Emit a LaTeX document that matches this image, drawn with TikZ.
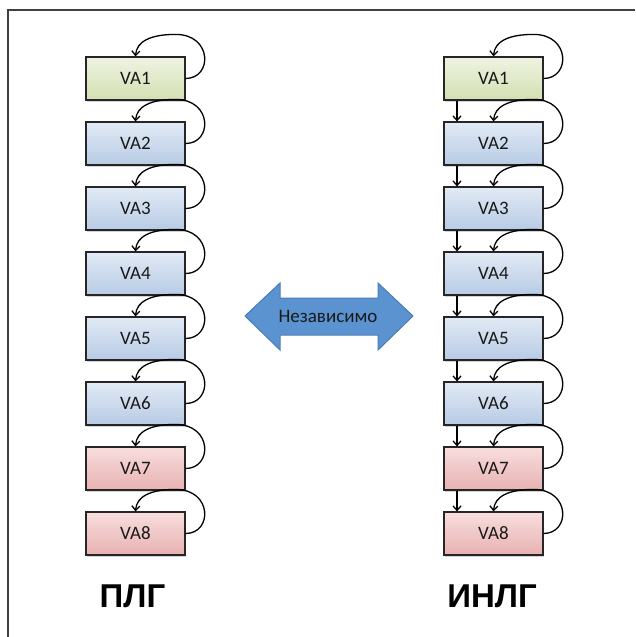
\documentclass[tikz,border=0pt]{standalone}
\usepackage{fontspec}
\setmainfont{Carlito}
\newfontfamily\labelfont{Liberation Sans}
\usetikzlibrary{arrows.meta,calc,shadows}
\definecolor{gtop}{HTML}{EEF3E1}
\definecolor{gbot}{HTML}{D3E0B2}
\definecolor{btop}{HTML}{E2EAF5}
\definecolor{bbot}{HTML}{B7CBE5}
\definecolor{ptop}{HTML}{F8DEDE}
\definecolor{pbot}{HTML}{E8B1B1}
\definecolor{arrfill}{HTML}{5A93D0}
\definecolor{arrdraw}{HTML}{4A7DB5}
\tikzset{
  vabox/.style={draw=black!85, line width=1.2pt, minimum width=99pt, minimum height=43pt,
    inner sep=0pt, font=\fontsize{19}{19}\selectfont, text=black!90,
    drop shadow={shadow xshift=1pt, shadow yshift=-1.5pt, opacity=0.35}},
  vagreen/.style={top color=gtop, bottom color=gbot},
  vablue/.style={top color=btop, bottom color=bbot},
  vapink/.style={top color=ptop, bottom color=pbot},
  loopar/.style={draw=black, line width=1.3pt, -{Straight Barb[length=4.5pt,width=8pt]}},
  vertar/.style={draw=black, line width=1.3pt, -{Straight Barb[length=4.5pt,width=8pt]}},
  biglabel/.style={font=\labelfont\bfseries\fontsize{33}{33}\selectfont}
}
\begin{document}
\begin{tikzpicture}[x=1pt,y=-1pt]
\useasboundingbox (0,0) rectangle (635,637);
\draw[black!75, line width=2pt] (8,637) -- (8,10) -- (635,10);
\foreach \i/\c in {1/vagreen,2/vablue,3/vablue,4/vablue,5/vablue,6/vablue,7/vapink,8/vapink}{
  \node[vabox,\c] (L\i) at (135.5,{78.5+65*(\i-1)}) {VA\i};
  \node[vabox,\c] (R\i) at (493.5,{78.5+65*(\i-1)}) {VA\i};
}
\foreach \n in {L1,L2,L3,L4,L5,L6,L7,L8,R1,R2,R3,R4,R5,R6,R7,R8}{
  \draw[loopar] (\n.east) .. controls +(27,0) and +(37,0) .. ($(\n.north east)+(-10,-22)$)
    .. controls +(-25,0) and +(1,-15) .. (\n.north);
}
\foreach \i/\j in {1/2,2/3,3/4,4/5,5/6,6/7,7/8}{
  \draw[vertar] ([xshift=-36.5pt]R\i.south) -- ([xshift=-36.5pt]R\j.north);
}
\path[fill=arrfill, draw=arrdraw, line width=1pt] (245,316) -- (280,283) -- (280,298) -- (378,298) -- (378,283)
  -- (413,316) -- (378,350) -- (378,335) -- (280,335) -- (280,350) -- cycle;
\node[font=\fontsize{19}{19}\selectfont, text=black!90] (indep) at (328,316) {Независимо};
\node[biglabel] (plg) at (132.5,596) {ПЛГ};
\node[biglabel] (inlg) at (492,596) {ИНЛГ};
\end{tikzpicture}
\end{document}
